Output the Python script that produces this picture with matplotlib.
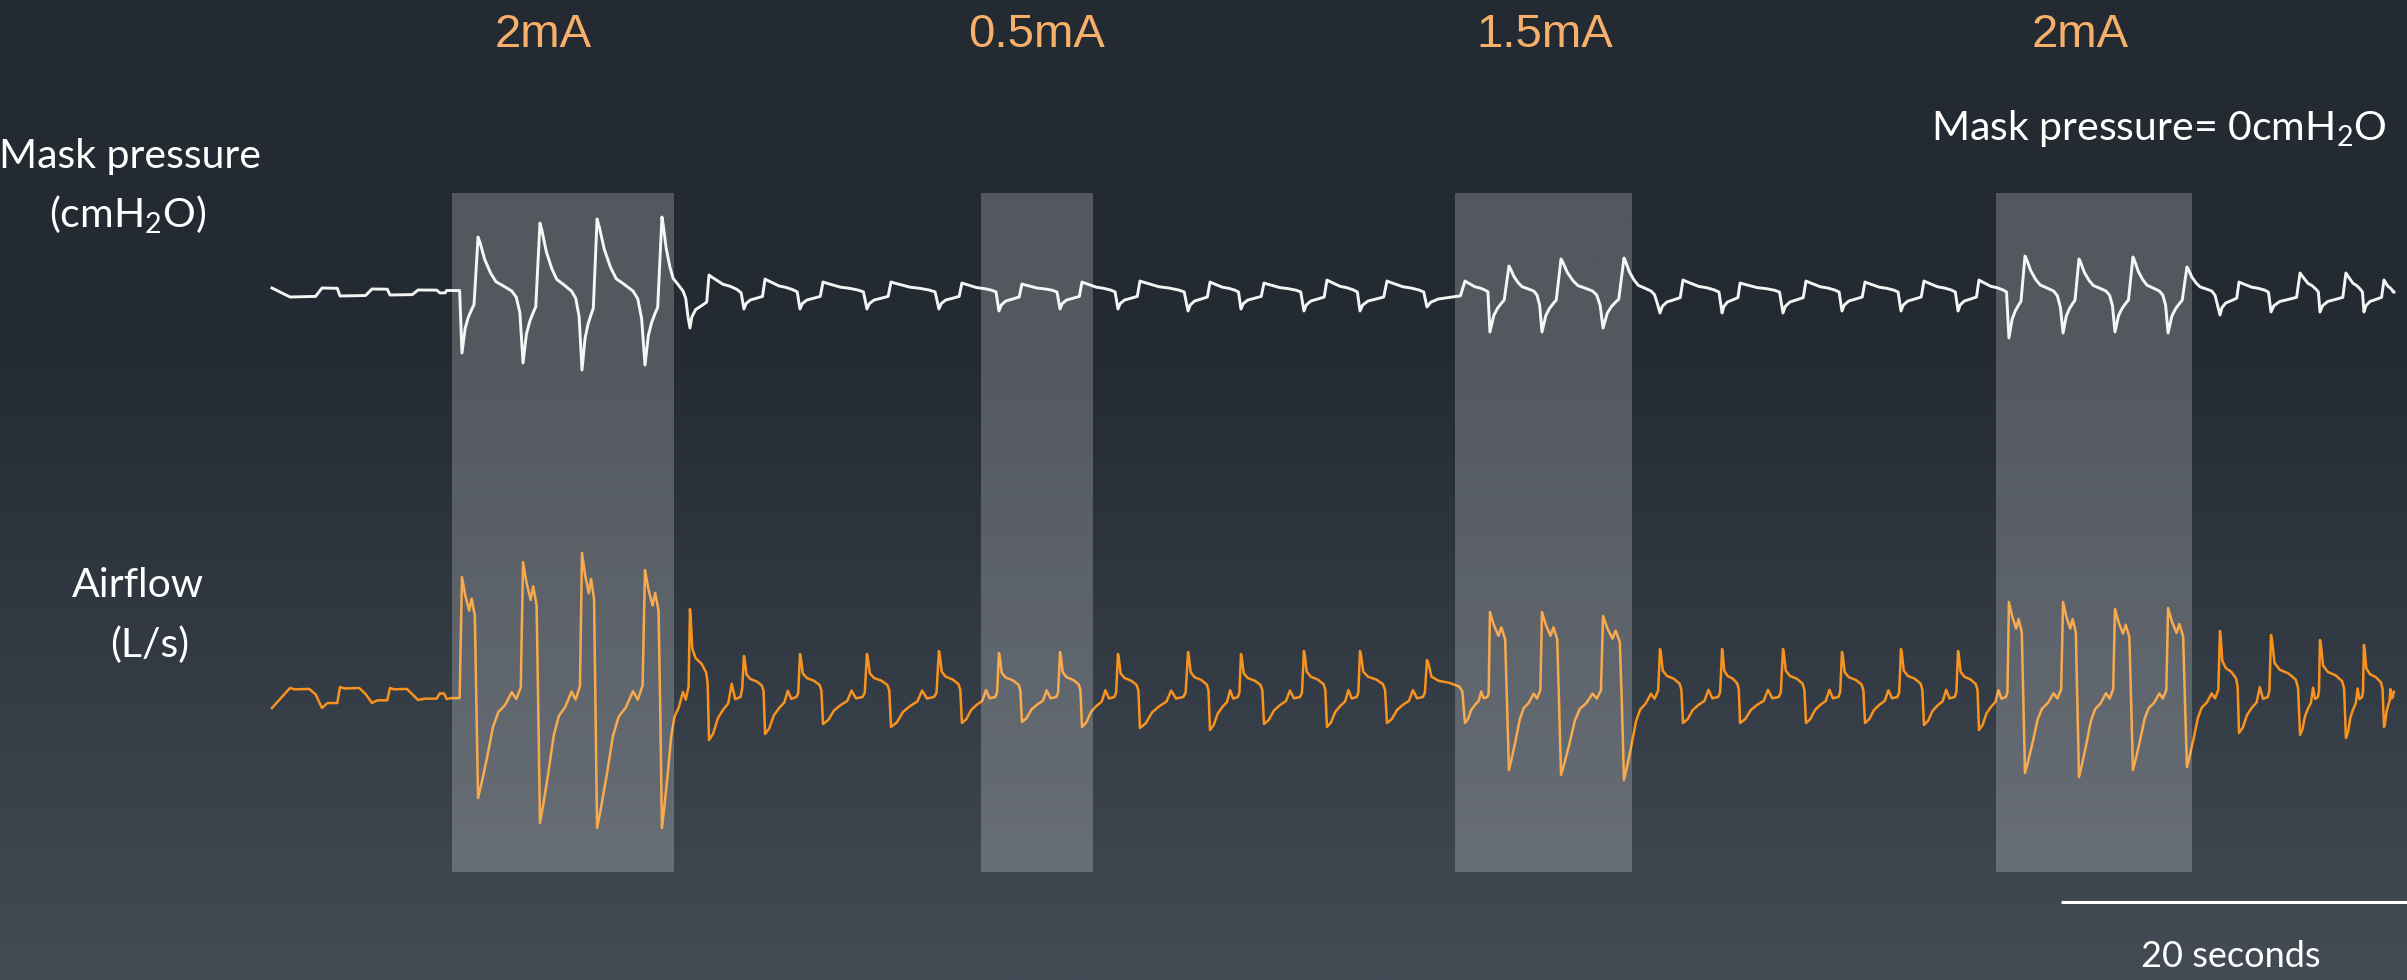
import numpy as np
import matplotlib
matplotlib.use("Agg")
import matplotlib.pyplot as plt
from matplotlib.colors import to_rgb

# one entry per breath: q = quiet, n = normal, s = during stimulation
kind = ['q', 'q', 'q', 'q',
        's', 's', 's', 's',
        'n', 'n', 'n', 'n', 'n', 'n', 'n', 'n', 'n', 'n', 'n', 'n', 'n',
        's', 's', 's',
        'n', 'n', 'n', 'n', 'n', 'n',
        's', 's', 's', 's',
        'n', 'n', 'n', 'n']
# start of inspiration and start of expiration (s)
t_insp = [1.04, 3.93, 6.82, 9.71,
          10.98, 14.51, 17.92, 21.56,
          24.16, 27.28, 30.52, 34.39, 38.55, 42.02, 45.55, 48.90, 52.95,
          56.01, 59.65, 62.89, 66.76,
          70.40, 73.41, 76.94,
          80.23, 83.82, 87.34, 90.75, 94.16, 97.46,
          100.40, 103.53, 106.53, 109.60,
          112.60, 115.55, 118.38, 120.92]
t_exp = [2.89, 5.78, 8.44, 10.09,
         11.91, 15.49, 18.79, 22.54,
         25.26, 28.50, 31.85, 35.78, 39.88, 43.35, 46.82, 50.17, 54.22,
         57.34, 60.98, 64.45, 68.96,
         71.50, 74.51, 78.15,
         81.56, 84.86, 88.67, 92.08, 95.49, 98.67,
         101.33, 104.45, 107.57, 110.69,
         113.70, 117.23, 119.88, 122.08]
t_end = 122.66

# airflow (L/s): inspiratory peak, expiratory trough
flow_peak = [0.09, 0.10, 0.09, 0.04,
             1.20, 1.35, 1.44, 1.27,
             0.88, 0.41, 0.43, 0.43, 0.46, 0.44, 0.45, 0.43, 0.45, 0.43, 0.46, 0.46, 0.37,
             0.85, 0.85, 0.81,
             0.48, 0.48, 0.48, 0.45, 0.48, 0.46,
             0.95, 0.95, 0.88, 0.89,
             0.66, 0.62, 0.57, 0.52]
flow_trough = [-0.11, -0.06, -0.03, -0.02,
               -1.01, -1.26, -1.31, -1.31,
               -0.43, -0.37, -0.27, -0.30, -0.26, -0.25, -0.30, -0.31, -0.33, -0.27, -0.30, -0.26, -0.26,
               -0.73, -0.78, -0.83,
               -0.26, -0.26, -0.26, -0.26, -0.28, -0.33,
               -0.76, -0.80, -0.73, -0.70,
               -0.36, -0.38, -0.41, -0.30]

# mask pressure (cmH2O): inspiratory trough, expiratory peak
pres_trough = [-0.6, -0.5, -0.4, -0.2,
               -6.2, -7.2, -7.9, -7.4,
               -3.7, -1.8, -1.8, -1.8, -1.8, -2.0, -1.8, -1.8, -2.0, -1.8, -2.0, -2.0, -1.6,
               -4.1, -4.1, -3.7,
               -2.2, -2.2, -2.2, -2.0, -2.0, -2.0,
               -4.7, -4.2, -4.1, -4.2,
               -2.4, -2.1, -2.1, -2.1]
pres_peak = [0.3, 0.2, 0.1, 0.05,
             5.4, 6.8, 7.2, 7.4,
             1.6, 1.2, 0.9, 0.9, 0.8, 0.7, 0.9, 1.0, 0.9, 0.8, 1.1, 1.0, 1.0,
             2.5, 3.2, 3.3,
             1.1, 0.8, 1.0, 0.9, 1.0, 1.1,
             3.5, 3.2, 3.4, 2.4,
             0.9, 1.8, 1.8, 1.1]
flow_start = -0.11
pres_start = 0.3

# stimulation windows (s)
stim_on = [10.40, 40.98, 68.38, 99.65]
stim_off = [23.24, 47.46, 78.61, 110.98]
stim_label = ['2mA', '0.5mA', '1.5mA', '2mA']
scale_len = 20  # seconds

# breath shapes: (fraction of phase, fraction of peak/trough)
flow_shape = {
    'q': ([(0.0, 1.0), (0.15, 0.85), (0.6, 0.9), (0.8, 0.3)],
          [(0.0, -1.0), (0.3, -0.55), (0.85, -0.55)]),
    'n': ([(0.0, 1.0), (0.04, 0.9), (0.12, 0.55), (0.3, 0.44), (0.6, 0.38), (0.85, 0.28), (0.93, 0.15)],
          [(0.0, -1.0), (0.12, -0.85), (0.25, -0.5), (0.4, -0.3), (0.55, -0.15),
           (0.65, 0.15), (0.75, -0.05), (0.9, 0.0), (0.95, 0.1)]),
    's': ([(0.0, 1.0), (0.2, 0.85), (0.45, 0.72), (0.6, 0.82), (0.8, 0.68), (0.9, -0.1)],
          [(0.0, -1.0), (0.08, -0.85), (0.2, -0.6), (0.33, -0.3), (0.45, -0.15),
           (0.6, -0.08), (0.75, 0.04), (0.85, -0.02), (0.95, 0.08)]),
}
pres_shape = {
    'q': ([(0.0, -1.0), (0.8, -0.9)],
          [(0.0, 1.0), (0.85, 0.9)]),
    'n': ([(0.0, -1.0), (0.1, -0.7), (0.3, -0.5), (0.6, -0.4), (0.88, -0.3)],
          [(0.0, 1.0), (0.06, 0.9), (0.2, 0.7), (0.4, 0.42), (0.6, 0.3), (0.8, 0.1), (0.92, -0.05)]),
    's': ([(0.0, -1.0), (0.2, -0.6), (0.4, -0.42), (0.6, -0.3), (0.75, -0.22)],
          [(0.0, 1.0), (0.05, 0.88), (0.15, 0.58), (0.28, 0.33), (0.4, 0.17),
           (0.55, 0.1), (0.75, 0.0), (0.85, -0.1), (0.93, -0.35)]),
}


def build(shapes, hi, lo, start):
    t, y = [0.0], [start]
    for i, k in enumerate(kind):
        nxt = t_insp[i + 1] if i + 1 < len(kind) else t_end
        insp, exp = shapes[k]
        for phase, t0, t1 in ((insp, t_insp[i], t_exp[i]), (exp, t_exp[i], nxt)):
            for u, v in phase:
                t.append(t0 + u * (t1 - t0))
                y.append(v * hi[i] if v >= 0 else v * abs(lo[i]))
    t.append(t_end)
    y.append(y[-1])
    return np.array(t), np.array(y)


W, H = 2407, 980
PX_PER_S = 17.3
X0 = -272 / PX_PER_S
X1 = (W - 272) / PX_PER_S

plt.rcParams['font.family'] = ['Lato', 'DejaVu Sans']
plt.rcParams['mathtext.fontset'] = 'custom'
plt.rcParams['mathtext.rm'] = 'Lato'
plt.rcParams['mathtext.default'] = 'regular'

fig = plt.figure(figsize=(W / 100, H / 100), dpi=100)

# background gradient
ax_bg = fig.add_axes([0, 0, 1, 1])
frac = np.linspace(0, 1, H)
w = np.clip((frac - 0.35) / 0.65, 0, 1)[:, None]
top, bot = np.array(to_rgb('#232a32')), np.array(to_rgb('#434b55'))
grad = (top * (1 - w) + bot * w)[:, None, :]
ax_bg.imshow(grad, aspect='auto', extent=(0, 1, 0, 1))
ax_bg.axis('off')

# traces
tp, yp = build(pres_shape, pres_peak, pres_trough, pres_start)
tf, yf = build(flow_shape, flow_peak, flow_trough, flow_start)

ax_p = fig.add_axes([0, 1 - 380 / H, 1, 180 / H])
ax_p.plot(tp, yp, color='#f4f4f4', lw=2.1, solid_joinstyle='round')
ax_p.set_xlim(X0, X1)
ax_p.set_ylim(-8.9, 9.1)
ax_p.axis('off')

ax_f = fig.add_axes([0, 1 - 860 / H, 1, 320 / H])
ax_f.plot(tf, yf, color='#f7931e', lw=1.8, solid_joinstyle='round')
ax_f.set_xlim(X0, X1)
ax_f.set_ylim(-1.63, 1.57)
ax_f.axis('off')

# stimulation shading, scale bar
ax_top = fig.add_axes([0, 0, 1, 1])
ax_top.set_xlim(X0, X1)
ax_top.set_ylim(0, 1)
ax_top.axis('off')
for on, off in zip(stim_on, stim_off):
    ax_top.axvspan(on, off, ymin=1 - 872 / H, ymax=1 - 193 / H,
                   color='white', alpha=0.22, lw=0)
ax_top.plot([X1 - scale_len, X1], [1 - 902 / H] * 2, color='white', lw=2.2,
            solid_capstyle='butt')


def px(x, y):
    return x / W, 1 - y / H


for lab, xc in zip(stim_label, [543, 1037, 1545, 2080]):
    fig.text(*px(xc, 47), lab, color='#f6b06a', fontsize=34, ha='center',
             va='baseline', family=['Liberation Sans', 'DejaVu Sans'])

lbl = dict(color='white', fontsize=29.5, va='baseline')
fig.text(*px(130, 168), 'Mask pressure', ha='center', **lbl)
fig.text(*px(128, 228), '(cmH$_2$O)', ha='center', **lbl)
fig.text(*px(138, 597), 'Airflow', ha='center', **lbl)
fig.text(*px(150, 657), '(L/s)', ha='center', **lbl)
fig.text(*px(2387, 140), 'Mask pressure= 0cmH$_2$O', ha='right', **lbl)
fig.text(*px(2231, 967), '20 seconds', color='white', fontsize=26,
         ha='center', va='baseline')

fig.savefig('out.png', dpi=100)
